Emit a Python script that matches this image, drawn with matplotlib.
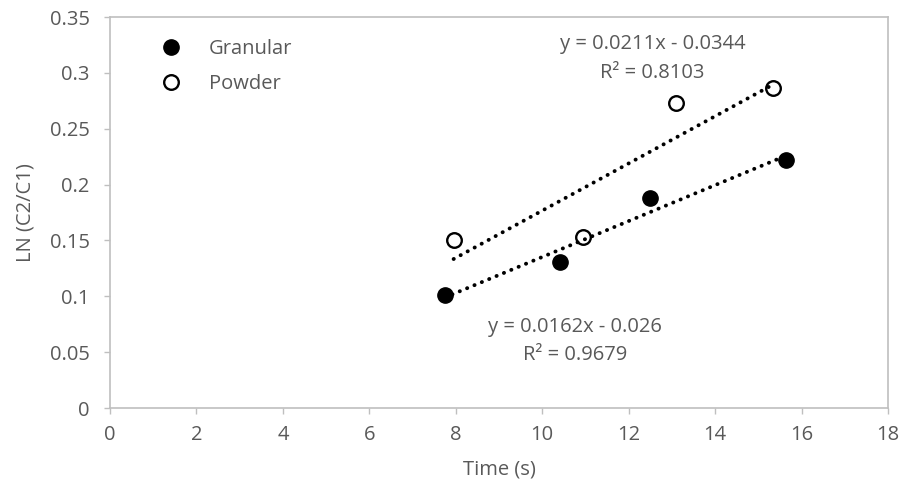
import numpy as np
import matplotlib
matplotlib.use("Agg")
import matplotlib.pyplot as plt

# Data
granular_x = [7.75, 10.4, 12.5, 15.65]
granular_y = [0.101, 0.131, 0.188, 0.222]
powder_x = [7.95, 10.95, 13.1, 15.35]
powder_y = [0.150, 0.153, 0.273, 0.286]
x_ticks = [0, 2, 4, 6, 8, 10, 12, 14, 16, 18]
y_ticks = [0, 0.05, 0.1, 0.15, 0.2, 0.25, 0.3, 0.35]
y_tick_labels = ["0", "0.05", "0.1", "0.15", "0.2", "0.25", "0.3", "0.35"]
eq_powder = ["y = 0.0211x - 0.0344", "R² = 0.8103"]
eq_granular = ["y = 0.0162x - 0.026", "R² = 0.9679"]

plt.rcParams['font.family'] = ['Open Sans', 'DejaVu Sans']
txt = '#595959'
grey = '#BFBFBF'
fs = 14.5

fig = plt.figure(figsize=(9.03, 4.93), dpi=100)
ax = fig.add_axes([110/903, 1-408/493, (888-110)/903, (408-17)/493])

# trendlines
for xs, ys in [(granular_x, granular_y), (powder_x, powder_y)]:
    m, b = np.polyfit(xs, ys, 1)
    xx = np.array([min(xs), max(xs)])
    ax.plot(xx, m*xx + b, color='black', lw=2.8, linestyle=(0, (0.05, 2.0)),
            dash_capstyle='round', zorder=2)

ax.plot(granular_x, granular_y, 'o', color='black', markersize=11, label='Granular', zorder=3)
ax.plot(powder_x, powder_y, 'o', markerfacecolor='none', markeredgecolor='black',
        markeredgewidth=1.7, markersize=10.5, label='Powder', zorder=3)

ax.set_xlim(0, 18)
ax.set_ylim(0, 0.35)
ax.set_xticks(x_ticks)
ax.set_yticks(y_ticks)
ax.set_yticklabels(y_tick_labels)
for s in ax.spines.values():
    s.set_color(grey)
    s.set_linewidth(1.2)
ax.tick_params(direction='out', length=4.5, width=1, color=grey, labelcolor=txt, labelsize=fs)
ax.tick_params(axis='y', pad=10)
ax.tick_params(axis='x', pad=8)

ax.set_xlabel('Time (s)', color=txt, fontsize=fs, labelpad=10)
ax.set_ylabel('LN (C2/C1)', color=txt, fontsize=fs, labelpad=10)

ax.text(12.55, 0.326, eq_powder[0], ha='center', va='center', color=txt, fontsize=fs)
ax.text(12.55, 0.300, eq_powder[1], ha='center', va='center', color=txt, fontsize=fs)
ax.text(10.75, 0.0725, eq_granular[0], ha='center', va='center', color=txt, fontsize=fs)
ax.text(10.75, 0.047, eq_granular[1], ha='center', va='center', color=txt, fontsize=fs)

leg = ax.legend(loc='upper left', bbox_to_anchor=(0.042, 0.965), frameon=False,
                fontsize=fs, handletextpad=0.9, labelspacing=0.75, borderaxespad=0)
for t in leg.get_texts():
    t.set_color(txt)

fig.savefig('out.png', dpi=100)
